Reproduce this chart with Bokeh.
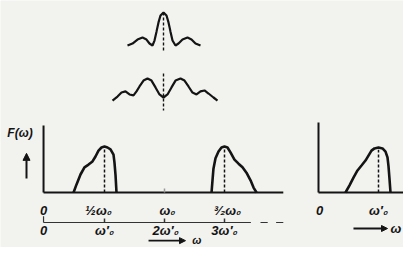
from bokeh.plotting import figure
from bokeh.models import Range1d, Arrow, NormalHead
from bokeh.core.properties import value
from bokeh.embed import file_html
from bokeh.resources import INLINE

# ---------------- data ----------------
# upper sketch 1 (single peaked pulse spectrum), u = arbitrary abscissa, a = amplitude
top1_u = [-3.6, -3.1, -2.6, -2.1, -1.7, -1.4, -1.1, -0.9, -0.7, -0.5, -0.3, 0.0,
          0.3, 0.5, 0.7, 0.9, 1.2, 1.5, 1.9, 2.4, 2.8, 3.2, 3.7]
top1_a = [0.0, 0.06, 0.18, 0.24, 0.18, 0.06, 0.0, 0.15, 0.42, 0.70, 0.91, 1.0,
          0.91, 0.70, 0.42, 0.15, 0.0, 0.06, 0.18, 0.24, 0.18, 0.06, 0.0]
# upper sketch 2 (double peaked)
top2_u = [-5.1, -4.6, -4.2, -3.8, -3.4, -3.0, -2.7, -2.4, -2.0, -1.6, -1.2, -0.8, -0.4, 0.0,
          0.4, 0.8, 1.2, 1.7, 2.1, 2.5, 2.9, 3.3, 3.7, 4.1, 4.5, 5.0, 5.4]
top2_a = [-0.16, 0.05, 0.26, 0.32, 0.16, 0.11, 0.32, 0.58, 0.89, 1.0, 0.89, 0.53, 0.16, 0.0,
          0.16, 0.53, 0.89, 1.0, 0.89, 0.58, 0.26, 0.16, 0.32, 0.37, 0.21, 0.0, -0.16]

# main spectrum, omega in units of omega0
left_w = [0.242, 0.267, 0.30, 0.333, 0.367, 0.40, 0.425, 0.45, 0.475, 0.50,
          0.525, 0.55, 0.575, 0.583, 0.592, 0.60]
left_F = [0.0, 0.18, 0.40, 0.56, 0.62, 0.69, 0.80, 0.93, 1.0, 1.02,
          1.0, 0.96, 0.84, 0.67, 0.38, 0.0]
right_w = [1.392, 1.40, 1.408, 1.425, 1.45, 1.475, 1.50, 1.525, 1.55, 1.583,
           1.617, 1.65, 1.683, 1.717, 1.742, 1.767]
right_F = [0.0, 0.27, 0.53, 0.76, 0.91, 1.0, 1.02, 1.0, 0.89, 0.73,
           0.64, 0.56, 0.44, 0.27, 0.11, 0.0]

# right panel, omega in units of omega0'
solo_w = [0.45, 0.517, 0.583, 0.65, 0.717, 0.783, 0.833, 0.883, 0.933, 1.0,
          1.067, 1.117, 1.15, 1.167, 1.183, 1.20]
solo_F = [0.0, 0.16, 0.33, 0.49, 0.60, 0.71, 0.82, 0.93, 0.98, 1.0,
          0.98, 0.91, 0.78, 0.58, 0.31, 0.0]

row1_w = [-0.008, 0.45, 1.025, 1.525]
row1_labels = ["0", "½ω₀", "ω₀", "³⁄₂ω₀"]
row2_w = [-0.008, 0.5, 1.01, 1.5]
row2_labels = ["0", "ω′₀", "2ω′₀", "3ω′₀"]
row2_ticks = [0.5, 1.0, 1.5]
solo_labels_w = [0.017, 1.0]
solo_labels = ["0", "ω′₀"]

# ---------------- layout helpers ----------------
W, H = 403, 247
def fx(px):
    return px
def fy(py):
    return H - py

def rng(v0, p0, v1, p1, conv, length):
    f0, f1 = conv(p0), conv(p1)
    k = (v1 - v0) / (f1 - f0)
    return Range1d(start=v0 - f0 * k, end=v0 + (length - f0) * k)

bg = "#f2f2ef"
ink = "#141414"

p = figure(width=W, height=H,
           x_range=rng(0, 44, 1, 164, fx, W),
           y_range=rng(0, 192, 1, 147, fy, H),
           x_axis_location=None, y_axis_location=None,
           toolbar_location=None, output_backend="svg",
           min_border=0, outline_line_color=None,
           background_fill_color=bg, border_fill_color=bg)
for g in p.grid:
    g.visible = False

p.extra_x_ranges = {"right": rng(0, 318, 1, 378, fx, W),
                    "top": rng(0, 163, 1, 173, fx, W)}
p.extra_y_ranges = {"top1": rng(0, 45, 1, 12, fy, H),
                    "top2": rng(0, 97, 1, 78, fy, H)}

# upper sketches
p.line(top1_u, top1_a, x_range_name="top", y_range_name="top1", line_color=ink, line_width=2.2)
p.line([0, 0], [1.0, -0.15], x_range_name="top", y_range_name="top1",
       line_color=ink, line_width=1.4, line_dash="3 2")
p.line(top2_u, top2_a, x_range_name="top", y_range_name="top2", line_color=ink, line_width=2.2)
p.line([0, 0], [1.26, -0.68], x_range_name="top", y_range_name="top2",
       line_color=ink, line_width=1.4, line_dash="3 2")

# main panel axes
p.line([-0.008, -0.008], [0, 1.49], line_color=ink, line_width=2)
p.line([-0.008, 1.99], [0, 0], line_color=ink, line_width=2)
p.line([1.0, 1.0], [0, 0.09], line_color="#999999", line_width=1.5)
# bumps
p.line(left_w, left_F, line_color=ink, line_width=2.6)
p.line(right_w, right_F, line_color=ink, line_width=2.6)
p.line([0.5, 0.5], [0, 1.0], line_color=ink, line_width=1.5, line_dash="3 2")
p.line([1.5, 1.5], [0, 1.0], line_color=ink, line_width=1.5, line_dash="3 2")

tf = value("Liberation Sans")
p.text(x=[-0.31], y=[1.333], text=["F(ω)"], text_font=tf, text_font_style="bold italic",
       text_font_size="12px", text_align="left", text_baseline="middle", text_color=ink)
p.add_layout(Arrow(end=NormalHead(size=7, fill_color=ink, line_color=ink),
                   x_start=-0.15, y_start=0.31, x_end=-0.15, y_end=0.87,
                   line_color=ink, line_width=2))

p.text(x=row1_w, y=[-0.4] * 4, text=row1_labels, text_font=tf, text_font_style="bold italic",
       text_font_size="13px", text_align="center", text_baseline="middle", text_color=ink)

# second scale
p.line([-0.008, 1.72], [-0.667, -0.667], line_color="#333333", line_width=1.2)
p.line([1.8, 1.86], [-0.667, -0.667], line_color="#333333", line_width=1.2)
p.line([1.93, 1.99], [-0.667, -0.667], line_color="#333333", line_width=1.2)
p.line([-0.008, -0.008], [-0.667, -0.53], line_color="#333333", line_width=1.2)
p.segment(x0=row2_ticks, y0=[-0.667] * 3, x1=row2_ticks, y1=[-0.58] * 3,
          line_color="#333333", line_width=1.5)
p.text(x=row2_w, y=[-0.85] * 4, text=row2_labels, text_font=tf, text_font_style="bold italic",
       text_font_size="13px", text_align="center", text_baseline="middle", text_color=ink)
# omega arrow below the scales (lifted to stay inside the picture)
p.add_layout(Arrow(end=NormalHead(size=6, fill_color=ink, line_color=ink),
                   x_start=0.867, y_start=-1.07, x_end=1.175, y_end=-1.07,
                   line_color=ink, line_width=1.8))
p.text(x=[1.27], y=[-1.045], text=["ω"], text_font=tf, text_font_style="bold italic",
       text_font_size="11px", text_align="center", text_baseline="middle", text_color=ink)

# right panel
p.line([0, 0], [0, 1.556], x_range_name="right", line_color=ink, line_width=2)
p.line([0, 1.7], [0, 0], x_range_name="right", line_color=ink, line_width=2)
p.line(solo_w, solo_F, x_range_name="right", line_color=ink, line_width=2.6)
p.line([1.0, 1.0], [0, 0.95], x_range_name="right", line_color=ink, line_width=1.5, line_dash="3 2")
p.text(x=solo_labels_w, y=[-0.4] * 2, text=solo_labels, x_range_name="right", text_font=tf,
       text_font_style="bold italic", text_font_size="13px", text_align="center",
       text_baseline="middle", text_color=ink)
p.add_layout(Arrow(end=NormalHead(size=6, fill_color=ink, line_color=ink),
                   x_start=0.583, y_start=-0.8, x_end=1.15, y_end=-0.8,
                   x_range_name="right", line_color=ink, line_width=1.8))
p.text(x=[1.29], y=[-0.79], text=["ω"], x_range_name="right", text_font=tf,
       text_font_style="bold italic", text_font_size="13px", text_align="center",
       text_baseline="middle", text_color=ink)

open("out.html", "w").write(file_html(p, INLINE))
